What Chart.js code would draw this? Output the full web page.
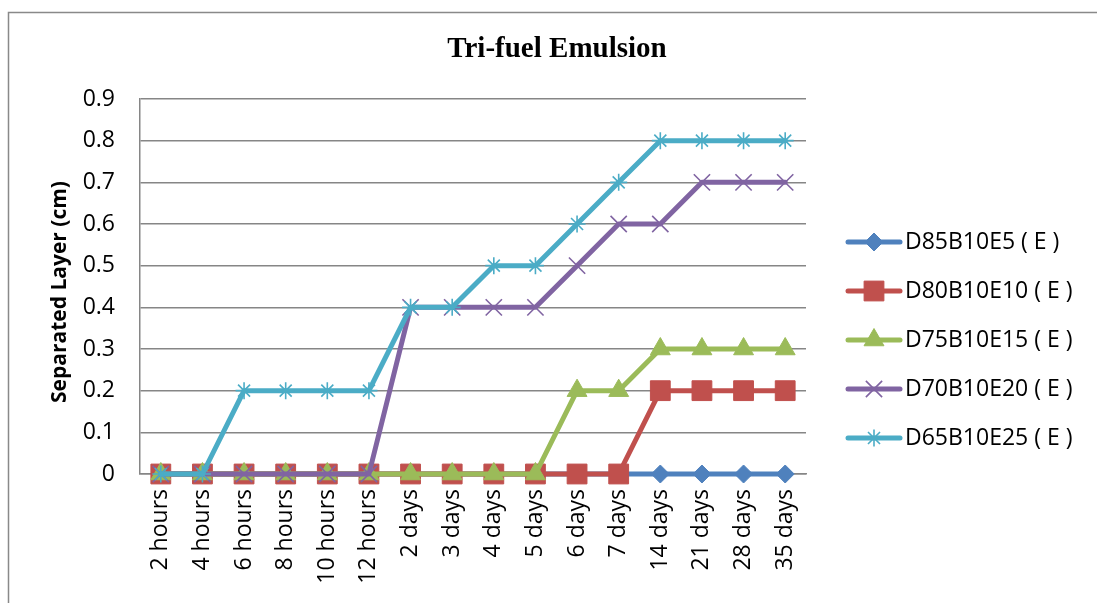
<!DOCTYPE html>
<html>
<head>
<meta charset="utf-8">
<script src="https://cdn.jsdelivr.net/npm/chart.js@4/dist/chart.umd.min.js"></script>
<style>
  body { margin: 0; background: #fff; }
  canvas { display: block; }
</style>
</head>
<body>
<canvas id="emulsionChart" width="1097" height="603"></canvas>
<script>
const categories = ["2 hours", "4 hours", "6 hours", "8 hours", "10 hours", "12 hours",
  "2 days", "3 days", "4 days", "5 days", "6 days", "7 days",
  "14 days", "21 days", "28 days", "35 days"];
const seriesNames = ["D85B10E5 ( E )", "D80B10E10 ( E )", "D75B10E15 ( E )", "D70B10E20 ( E )", "D65B10E25 ( E )"];
const d85 = [0, 0, 0, 0, 0, 0, 0, 0, 0, 0, 0, 0, 0, 0, 0, 0];
const d80 = [0, 0, 0, 0, 0, 0, 0, 0, 0, 0, 0, 0, 0.2, 0.2, 0.2, 0.2];
const d75 = [0, 0, 0, 0, 0, 0, 0, 0, 0, 0, 0.2, 0.2, 0.3, 0.3, 0.3, 0.3];
const d70 = [0, 0, 0, 0, 0, 0, 0.4, 0.4, 0.4, 0.4, 0.5, 0.6, 0.6, 0.7, 0.7, 0.7];
const d65 = [0, 0, 0.2, 0.2, 0.2, 0.2, 0.4, 0.4, 0.5, 0.5, 0.6, 0.7, 0.8, 0.8, 0.8, 0.8];
const yTickMax = 0.9;
const yTickStep = 0.1;

const colors = ["#4F81BD", "#C0504D", "#9BBB59", "#8064A2", "#4BACC6"];
const markers = [
  { pointStyle: "rectRot", radius: 9, borderWidth: 1 },
  { pointStyle: "rect", radius: 14, borderWidth: 1 },
  { pointStyle: "triangle", radius: 11.5, borderWidth: 1 },
  { pointStyle: "crossRot", radius: 11.5, borderWidth: 1.6 },
  { pointStyle: "star", radius: 8.5, borderWidth: 1.6 },
];
const FONT = "'Open Sans', 'Noto Sans', sans-serif";

function makeDataset(label, values, i) {
  return {
    label,
    data: values,
    borderColor: colors[i],
    backgroundColor: colors[i],
    borderWidth: 5,
    borderCapStyle: "round",
    borderJoinStyle: "round",
    tension: 0,
    clip: false,
    pointStyle: markers[i].pointStyle,
    pointRadius: markers[i].radius,
    pointHoverRadius: markers[i].radius,
    pointBorderWidth: markers[i].borderWidth,
    pointBorderColor: colors[i],
    pointBackgroundColor: colors[i],
    order: 4 - i,
  };
}

const decorations = {
  id: "decorations",
  beforeDraw(chart) {
    const ctx = chart.ctx;
    ctx.save();
    // outer frame
    ctx.strokeStyle = "#898989";
    ctx.lineWidth = 1.5;
    ctx.beginPath();
    ctx.moveTo(8.5, 603);
    ctx.lineTo(8.5, 12.5);
    ctx.lineTo(1097, 12.5);
    ctx.stroke();
    // title
    ctx.fillStyle = "#000";
    ctx.font = "bold 29px 'Liberation Serif', 'Times New Roman', serif";
    ctx.textAlign = "center";
    ctx.textBaseline = "middle";
    ctx.fillText("Tri-fuel Emulsion", 557, 50);
    // y axis title
    ctx.translate(60, 292);
    ctx.rotate(-Math.PI / 2);
    ctx.font = "bold 21px " + FONT;
    ctx.fillText("Separated Layer (cm)", 0, 0);
    ctx.restore();
  },
  afterDraw(chart) {
    const ctx = chart.ctx;
    ctx.save();
    chart.data.datasets.forEach((ds, i) => {
      const y = 242 + i * 49;
      ctx.strokeStyle = colors[i];
      ctx.lineWidth = 5;
      ctx.lineCap = "round";
      ctx.beginPath();
      ctx.moveTo(848, y);
      ctx.lineTo(900, y);
      ctx.stroke();
      ctx.fillStyle = colors[i];
      ctx.lineWidth = markers[i].borderWidth;
      ctx.lineCap = "butt";
      Chart.helpers.drawPoint(ctx, {
        pointStyle: markers[i].pointStyle,
        radius: markers[i].radius,
        rotation: 0,
        borderWidth: markers[i].borderWidth,
      }, 874, y);
      ctx.fillStyle = "#000";
      ctx.font = "23px " + FONT;
      ctx.textAlign = "left";
      ctx.textBaseline = "middle";
      ctx.fillText(ds.label, 905, y);
    });
    ctx.restore();
  },
};

new Chart(document.getElementById("emulsionChart"), {
  type: "line",
  data: {
    labels: categories,
    datasets: [d85, d80, d75, d70, d65].map((v, i) => makeDataset(seriesNames[i], v, i)),
  },
  options: {
    responsive: false,
    animation: false,
    layout: { padding: { left: 0, top: 99, right: 291, bottom: 0 } },
    plugins: {
      legend: { display: false },
      title: { display: false },
      tooltip: { enabled: false },
    },
    scales: {
      x: {
        offset: true,
        grid: { display: false, drawTicks: false },
        border: { color: "#868686", width: 1.5 },
        ticks: {
          color: "#000",
          font: { family: FONT, size: 23 },
          minRotation: 90,
          maxRotation: 90,
          padding: 15,
          autoSkip: false,
        },
        afterFit(scale) { scale.height = 129; },
      },
      y: {
        min: 0,
        max: yTickMax,
        grid: { color: "#868686", lineWidth: 1.5, drawTicks: false },
        border: { color: "#868686", width: 1.5 },
        ticks: {
          stepSize: yTickStep,
          color: "#000",
          font: { family: FONT, size: 23 },
          padding: 25,
        },
        afterFit(scale) { scale.width = 140; },
      },
    },
  },
  plugins: [decorations],
});
</script>
</body>
</html>
